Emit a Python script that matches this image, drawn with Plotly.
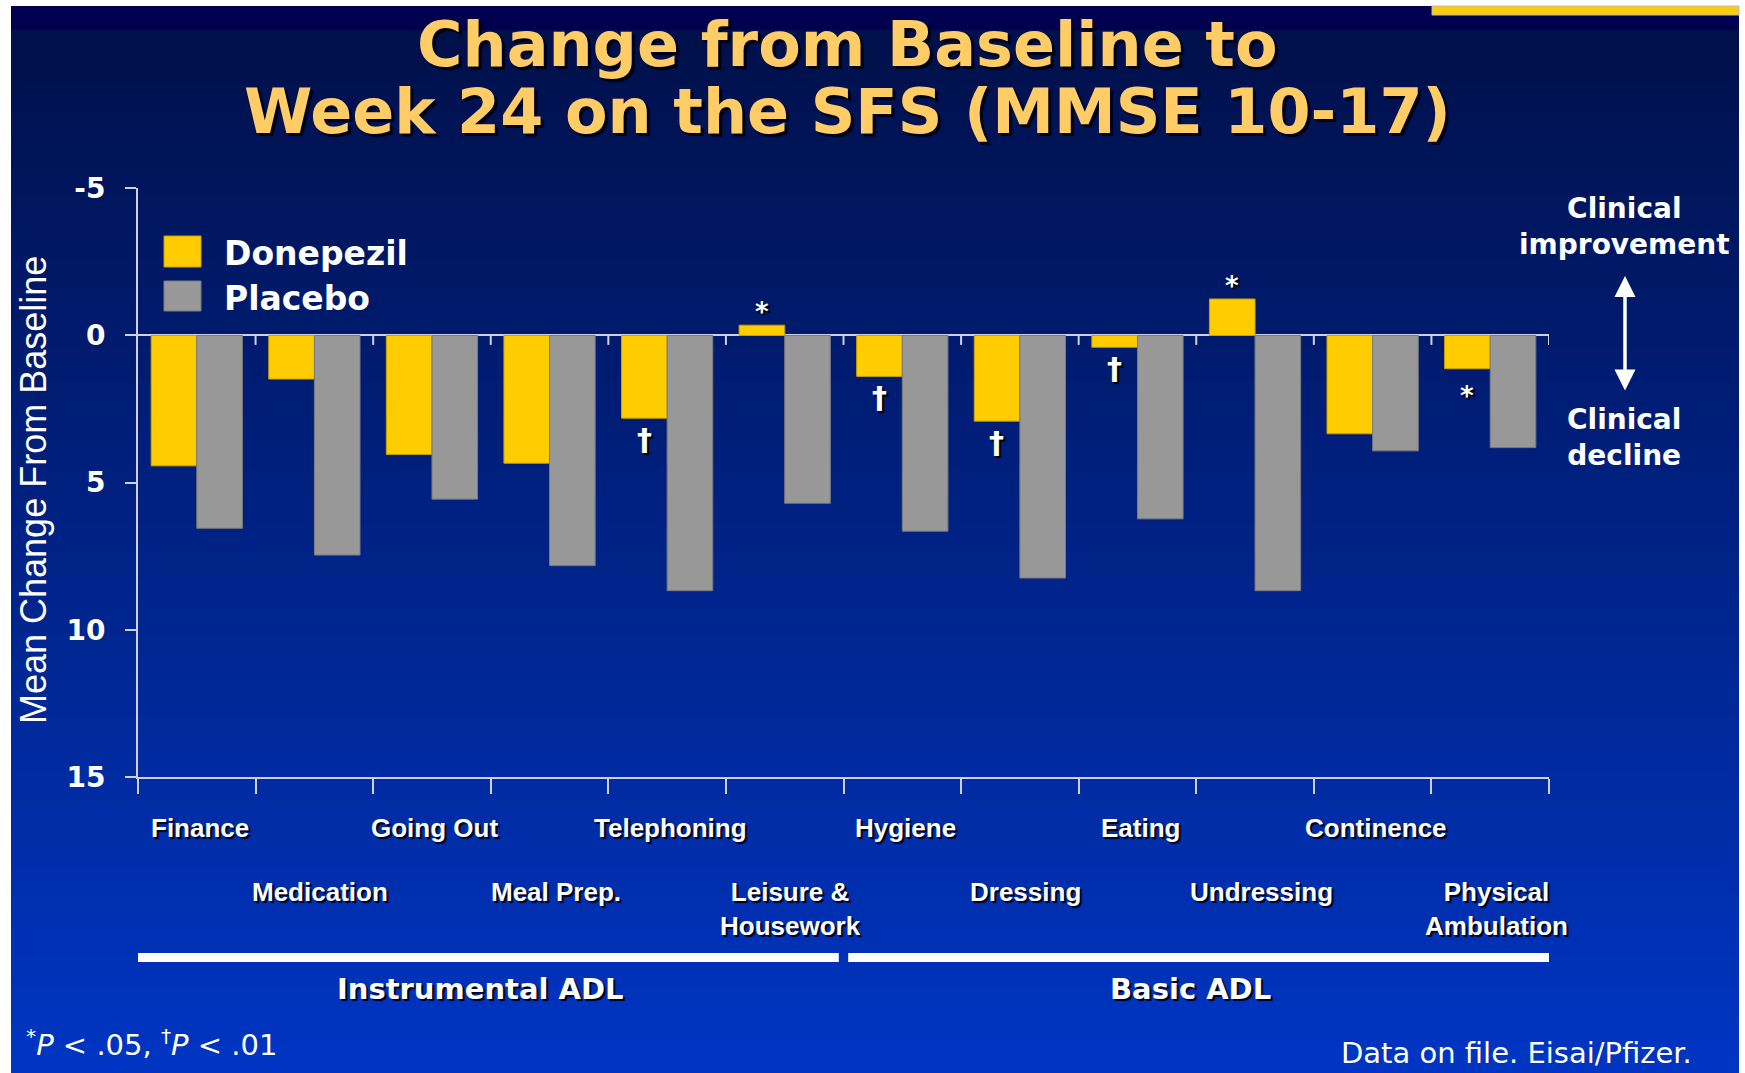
import base64
import struct
import zlib

import plotly.graph_objects as go

W, H = 1745, 1073

# ---- data -------------------------------------------------------------
categories = [
    "Finance", "Medication", "Going Out", "Meal Prep.", "Telephoning",
    "Leisure &<br>Housework", "Hygiene", "Dressing", "Eating", "Undressing",
    "Continence", "Physical<br>Ambulation",
]
donepezil = [4.43, 1.48, 4.04, 4.34, 2.81, -0.35, 1.39, 2.91, 0.40, -1.24, 3.34, 1.13]
placebo = [6.55, 7.46, 5.56, 7.82, 8.67, 5.70, 6.65, 8.24, 6.23, 8.67, 3.92, 3.81]
# significance of the donepezil/placebo difference per item ("" = n.s.)
significance = ["", "", "", "", "†", "*", "†", "†", "†", "*", "", "*"]
groups = ["Instrumental ADL", "Basic ADL"]
group_spans = [(0, 5), (6, 11)]
y_ticks = [-5, 0, 5, 10, 15]
y_ticktext = ["-5", "0", "5", "10", "15"]

YELLOW = "#FFCC00"
GRAY = "#989898"
AXIS = "#CFCFE6"
TITLE = "#FFCC66"
BOLD = "DejaVu Sans"
ARIAL = "Liberation Sans, Arial"


def px(x):
    return x / W


def py(y):
    return 1 - y / H


# ---- slide background: navy header strip + vertical blue gradient ----
def gradient_png(rows):
    def chunk(tag, data):
        return (struct.pack(">I", len(data)) + tag + data
                + struct.pack(">I", zlib.crc32(tag + data) & 0xFFFFFFFF))
    raw = b"".join(b"\x00" + bytes(rgb) for rgb in rows)
    png = (b"\x89PNG\r\n\x1a\n"
           + chunk(b"IHDR", struct.pack(">IIBBBBB", 1, len(rows), 8, 2, 0, 0, 0))
           + chunk(b"IDAT", zlib.compress(raw))
           + chunk(b"IEND", b""))
    return "data:image/png;base64," + base64.b64encode(png).decode()


top, bottom, strip = 6, H, 30
rows = []
for y in range(top, bottom):
    if y < strip:
        rows.append((0, 0, 78))
    else:
        t = (y - strip) / (bottom - strip)
        rows.append((0, int(16 + 38 * t), int(74 + 122 * t)))
bg_src = gradient_png(rows)

fig = go.Figure()

fig.add_trace(go.Bar(
    x=categories, y=donepezil, name="Donepezil",
    marker=dict(color=YELLOW, line=dict(color="#C8A000", width=1)),
    showlegend=False,
))
fig.add_trace(go.Bar(
    x=categories, y=placebo, name="Placebo",
    marker=dict(color=GRAY, line=dict(color="#7A7A7A", width=1)),
    showlegend=False,
))

annotations = []
shapes = []

# title
for text, yc in [("Change from Baseline to", 45),
                 ("Week 24 on the SFS (MMSE 10-17)", 112)]:
    annotations.append(dict(
        text=text, xref="paper", yref="paper", x=px(847), y=py(yc),
        xanchor="center", yanchor="middle", showarrow=False,
        font=dict(family=BOLD, size=62, color=TITLE, weight="bold",
                  shadow="3px 3px 1px #000010"),
    ))

# y-axis title
annotations.append(dict(
    text="Mean Change From Baseline", xref="paper", yref="paper",
    x=px(33), y=py(490), textangle=-90, showarrow=False,
    xanchor="center", yanchor="middle",
    font=dict(family=ARIAL, size=36, color="white"),
))

# legend
for label, color, line, (y0, y1) in [
    ("Donepezil", YELLOW, "#C8A000", (236, 267)),
    ("Placebo", GRAY, "#7A7A7A", (281, 311)),
]:
    shapes.append(dict(type="rect", xref="paper", yref="paper",
                       x0=px(164), x1=px(201), y0=py(y1), y1=py(y0),
                       fillcolor=color, line=dict(color=line, width=1)))
    annotations.append(dict(
        text=label, xref="paper", yref="paper", x=px(222), y=py((y0 + y1) / 2 + 2),
        xanchor="left", yanchor="middle", showarrow=False,
        font=dict(family=BOLD, size=33, color="white", weight="bold"),
    ))

# category labels, staggered over two rows
for i, cat in enumerate(categories):
    first_row = i % 2 == 0
    annotations.append(dict(
        text=cat, xref="x", yref="paper", x=cat,
        y=py(811 if first_row else 875), xshift=3 if first_row else 6,
        xanchor="center", yanchor="top", showarrow=False, align="center",
        font=dict(family=ARIAL, size=26, color="white", weight="bold",
                  shadow="2px 2px 1px #000020"),
    ))

# significance markers on the donepezil bars
for cat, val, mark in zip(categories, donepezil, significance):
    if not mark:
        continue
    above = val < 0
    if above:
        shift = -4
    elif mark == "*":
        shift = -10
    else:
        shift = -2
    annotations.append(dict(
        text=mark, xref="x", yref="y", x=cat, y=val,
        xanchor="center", yanchor="bottom" if above else "top",
        xshift=-23, yshift=shift, showarrow=False,
        font=dict(family=BOLD, size=30 if mark == "†" else 26, color="white",
                  weight="bold", shadow="2px 2px 1px #000000"),
    ))

# ticks along the zero line at category boundaries
for b in range(len(categories)):
    shapes.append(dict(type="line", xref="x", yref="y",
                       x0=b + 0.5, x1=b + 0.5, y0=0, y1=0.32,
                       line=dict(color=AXIS, width=2)))

# group brackets and labels
last = len(categories) - 1
for name, (a, b), xc in zip(groups, group_spans, [480, 1190]):
    x0 = a - 0.52 if a == 0 else a - 0.46
    x1 = b + 0.5 if b == last else b + 0.46
    shapes.append(dict(type="rect", xref="x", yref="paper",
                       x0=x0, x1=x1, y0=py(962), y1=py(953),
                       fillcolor="white", line=dict(width=0)))
    annotations.append(dict(
        text=name, xref="paper", yref="paper", x=px(xc), y=py(989),
        xanchor="center", yanchor="middle", showarrow=False,
        font=dict(family=BOLD, size=29, color="white", weight="bold",
                  shadow="2px 2px 1px #000020"),
    ))

# direction key on the right
for text, yc in [("Clinical<br>improvement", 226), ("Clinical<br>decline", 438)]:
    annotations.append(dict(
        text=text, xref="paper", yref="paper", x=px(1624), y=py(yc),
        xanchor="center", yanchor="middle", showarrow=False, align="center",
        font=dict(family=BOLD, size=28, color="white", weight="bold"),
    ))
annotations.append(dict(
    text="", xref="paper", yref="paper", x=px(1625), y=py(276),
    ax=0, ay=116, showarrow=True, arrowside="end+start",
    arrowhead=2, startarrowhead=2, arrowsize=1.2, startarrowsize=1.2,
    arrowwidth=3.5, arrowcolor="white", standoff=0, startstandoff=0,
))

# footnotes
annotations.append(dict(
    text="<sup>*</sup><i>P</i> < .05, <sup>†</sup><i>P</i> < .01",
    xref="paper", yref="paper", x=px(24), y=py(1043),
    xanchor="left", yanchor="middle", showarrow=False,
    font=dict(family="DejaVu Sans", size=29, color="white"),
))
annotations.append(dict(
    text="Data on file. Eisai/Pfizer.",
    xref="paper", yref="paper", x=px(1694), y=py(1053),
    xanchor="right", yanchor="middle", showarrow=False,
    font=dict(family="DejaVu Sans", size=29, color="white"),
))

# header accent bar
shapes.append(dict(type="rect", xref="paper", yref="paper",
                   x0=px(1432), x1=px(1739), y0=py(15), y1=py(6),
                   fillcolor=YELLOW, line=dict(color="#B8B8D8", width=1)))

fig.update_layout(
    width=W, height=H,
    margin=dict(l=0, r=0, t=0, b=0, pad=0, autoexpand=False),
    paper_bgcolor="white", plot_bgcolor="rgba(0,0,0,0)",
    barmode="group", bargap=0.224, bargroupgap=0,
    images=[dict(source=bg_src, xref="paper", yref="paper",
                 x=px(11), y=py(6), sizex=px(1739) - px(11), sizey=py(6) - py(H),
                 xanchor="left", yanchor="top", sizing="stretch", layer="below")],
    shapes=shapes,
    annotations=annotations,
    xaxis=dict(
        type="category", categoryorder="array", categoryarray=categories,
        domain=[px(138), px(1549)], range=[-0.5, len(categories) - 0.5],
        showticklabels=False, ticks="outside", tickson="boundaries",
        ticklen=15, tickwidth=2, tickcolor=AXIS,
        showline=True, linecolor=AXIS, linewidth=2, showgrid=False,
        zeroline=False, fixedrange=True,
    ),
    yaxis=dict(
        domain=[py(777), py(188.3)], range=[15, -5],
        tickvals=y_ticks, ticktext=y_ticktext,
        ticks="outside", ticklen=11, tickwidth=2, tickcolor=AXIS,
        ticklabelstandoff=14,
        tickfont=dict(family=BOLD, size=28, color="white", weight="bold"),
        showline=True, linecolor=AXIS, linewidth=2, showgrid=False,
        zeroline=True, zerolinecolor=AXIS, zerolinewidth=2, fixedrange=True,
    ),
)

fig.write_html("out.html")
